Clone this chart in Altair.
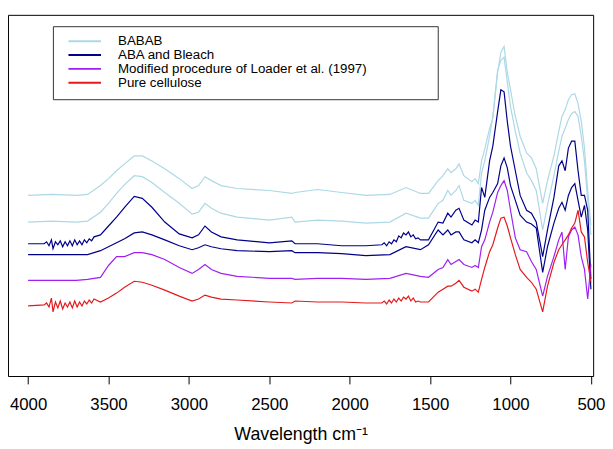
import altair as alt
import pandas as pd

# Wavenumbers (cm^-1) at which the spectra were read
wavenumber = [4000, 3850, 3700, 3630, 3550, 3500, 3450, 3400, 3340, 3290,
              3230, 3150, 3060, 2980, 2940, 2900, 2860, 2800, 2700, 2500,
              2360, 2340, 2200, 2050, 1900, 1750, 1650, 1560, 1510, 1450,
              1420, 1390, 1370, 1340, 1320, 1290, 1240, 1220, 1200, 1180,
              1160, 1130, 1110, 1080, 1060, 1040, 1020, 1000, 970, 940,
              900, 870, 840, 800, 770, 730, 700, 680, 660, 640,
              620, 600, 580, 560, 540, 520, 500]

# Offset absorbance (arbitrary units) of each spectrum
babab_1 = [187, 188, 187, 188, 197, 204, 212, 219, 227, 227,
           222, 214, 204, 194, 197, 206, 202, 197, 194, 192,
           189, 190, 193, 190, 187, 188, 195, 189, 189, 202,
           207, 214, 210, 214, 219, 207, 201, 204, 199, 222,
           234, 255, 265, 312, 332, 338, 312, 294, 267, 247,
           230, 225, 214, 179, 202, 227, 252, 267, 274, 284,
           289, 290, 280, 262, 235, 192, 157]
babab_2 = [160, 161, 160, 161, 170, 179, 189, 198, 207, 206,
           200, 190, 179, 168, 170, 179, 174, 169, 165, 162,
           165, 160, 162, 161, 159, 160, 169, 164, 164, 179,
           182, 192, 187, 192, 197, 182, 179, 182, 177, 210,
           222, 247, 267, 314, 324, 327, 302, 277, 252, 230,
           210, 202, 192, 152, 177, 207, 232, 247, 255, 264,
           270, 272, 267, 247, 222, 182, 147]
aba_1 = [138, 138, 138, 139, 147, 156, 165, 175, 186, 184,
         175, 160, 148, 144, 147, 156, 150, 145, 142, 139,
         141, 138, 138, 136, 136, 137, 149, 142, 142, 160,
         159, 169, 165, 172, 174, 162, 157, 162, 160, 195,
         185, 222, 237, 272, 294, 292, 262, 237, 212, 187,
         172, 169, 160, 125, 152, 185, 217, 222, 212, 235,
         242, 242, 212, 187, 187, 172, 102]
aba_2 = [127, 127, 127, 127, 131, 135, 139, 143, 149, 150,
         147, 142, 136, 132, 134, 137, 135, 133, 131, 130,
         131, 129, 129, 128, 126, 127, 135, 132, 137, 152,
         147, 152, 147, 150, 150, 142, 139, 142, 139, 152,
         172, 185, 190, 199, 217, 225, 215, 197, 182, 167,
         160, 158, 154, 109, 135, 159, 174, 180, 172, 187,
         195, 199, 182, 165, 177, 152, 92]
loader = [101, 101, 101, 102, 104, 116, 125, 125, 129, 129,
          127, 122, 114, 108, 112, 117, 112, 108, 105, 103,
          103, 102, 103, 103, 102, 103, 108, 105, 104, 112,
          114, 122, 117, 120, 122, 117, 114, 116, 114, 135,
          142, 160, 170, 190, 197, 202, 192, 172, 144, 132,
          130, 120, 112, 85, 105, 125, 142, 150, 112, 145,
          152, 155, 147, 125, 112, 82, 117]
cellulose = [75, 76, 76, 77, 79, 83, 88, 94, 100, 99,
             96, 91, 85, 80, 82, 86, 84, 82, 81, 79,
             78, 80, 79, 79, 78, 78, 83, 79, 79, 89,
             92, 95, 95, 98, 101, 94, 90, 92, 89, 102,
             114, 130, 137, 154, 164, 165, 156, 144, 127, 112,
             104, 99, 92, 69, 95, 119, 132, 137, 142, 147,
             154, 159, 172, 150, 145, 119, 99]

# Noisy stretches (ABA 1 and pure cellulose)
noise_wn_high = [3900, 3885, 3870, 3855, 3845, 3830, 3815, 3800, 3785, 3770,
                 3755, 3740, 3725, 3710, 3695, 3680, 3665, 3650, 3635, 3620,
                 3605, 3590]
aba_1_noise_high = [138, 140, 136, 142, 133, 140, 137, 141, 135, 140,
                    136, 141, 136, 142, 137, 141, 137, 142, 139, 143,
                    141, 145]
cellulose_noise_high = [76, 78, 74, 83, 69, 79, 73, 80, 72, 78,
                        74, 79, 73, 80, 74, 79, 75, 80, 77, 81,
                        78, 82]
noise_wn_mid = [1800, 1785, 1770, 1755, 1740, 1725, 1710, 1695, 1680, 1665,
                1650, 1635, 1620, 1605, 1590, 1575]
aba_1_noise_mid = [137, 139, 136, 140, 138, 142, 140, 146, 144, 149,
                   147, 150, 145, 147, 143, 144]
cellulose_noise_mid = [78, 80, 77, 81, 78, 82, 79, 83, 80, 84,
                       82, 85, 80, 83, 79, 80]

groups = ["BABAB", "ABA and Bleach",
          "Modified procedure of Loader et al. (1997)", "Pure cellulose"]
colors = ["#ADD8E6", "#00008B", "#A020F0", "#E31A1C"]


def merge(base, extras):
    pts = dict(zip(wavenumber, base))
    for wns, vals in extras:
        lo, hi = min(wns), max(wns)
        pts = {w: v for w, v in pts.items() if not (lo <= w <= hi)}
        pts.update(dict(zip(wns, vals)))
    return sorted(pts.items())


series = [
    ("BABAB 1", groups[0], merge(babab_1, [])),
    ("BABAB 2", groups[0], merge(babab_2, [])),
    ("ABA 1", groups[1], merge(aba_1, [(noise_wn_high, aba_1_noise_high),
                                       (noise_wn_mid, aba_1_noise_mid)])),
    ("ABA 2", groups[1], merge(aba_2, [])),
    ("Loader", groups[2], merge(loader, [])),
    ("Cellulose", groups[3], merge(cellulose, [(noise_wn_high, cellulose_noise_high),
                                               (noise_wn_mid, cellulose_noise_mid)])),
]

rows = []
for sid, grp, pts in series:
    for w, v in pts:
        rows.append({"wn": w, "absorbance": v, "series": sid, "group": grp})
df = pd.DataFrame(rows)

font = "Liberation Sans"

lines = alt.Chart(df).mark_line(strokeWidth=1.2).encode(
    x=alt.X("wn:Q",
            scale=alt.Scale(domain=[486, 4125], reverse=True, nice=False, zero=False),
            axis=alt.Axis(values=[4000, 3500, 3000, 2500, 2000, 1500, 1000, 500],
                          format="d",
                          tickSize=8, tickColor="black", domain=False, grid=False,
                          labelFont=font, labelFontSize=17, labelColor="black",
                          labelPadding=13, labelFlush=False, labelOverlap=False,
                          title="Wavelength cm⁻¹", titleFont=font, titleFontSize=18,
                          titleFontWeight="normal", titleColor="black", titlePadding=13)),
    y=alt.Y("absorbance:Q", scale=alt.Scale(domain=[4, 370], nice=False, zero=False),
            axis=None),
    color=alt.Color("group:N",
                    scale=alt.Scale(domain=groups, range=colors),
                    legend=alt.Legend(orient="none", legendX=60, legendY=20,
                                      title=None, symbolType="M-1,0H5",
                                      symbolSize=121, symbolStrokeWidth=2,
                                      labelFont=font, labelFontSize=13.5,
                                      labelColor="black", labelOffset=38,
                                      rowPadding=-1.5, padding=0, labelLimit=400)),
    detail="series:N",
    order=alt.Order("wn:Q"),
)

box = alt.Chart(pd.DataFrame({"k": [0]})).mark_rect(
    fill="white", fillOpacity=0, stroke="#333333", strokeWidth=1
).encode(x=alt.value(46), x2=alt.value(436), y=alt.value(12), y2=alt.value(86))

chart = alt.layer(lines, box).properties(
    width=593, height=366,
    autosize=alt.AutoSizeParams(type="none"),
    padding={"left": 0, "top": 4, "right": 12, "bottom": 69},
).configure_view(stroke="black", strokeWidth=1)

chart.save("out.html", embed_options={"renderer": "svg", "actions": False})
